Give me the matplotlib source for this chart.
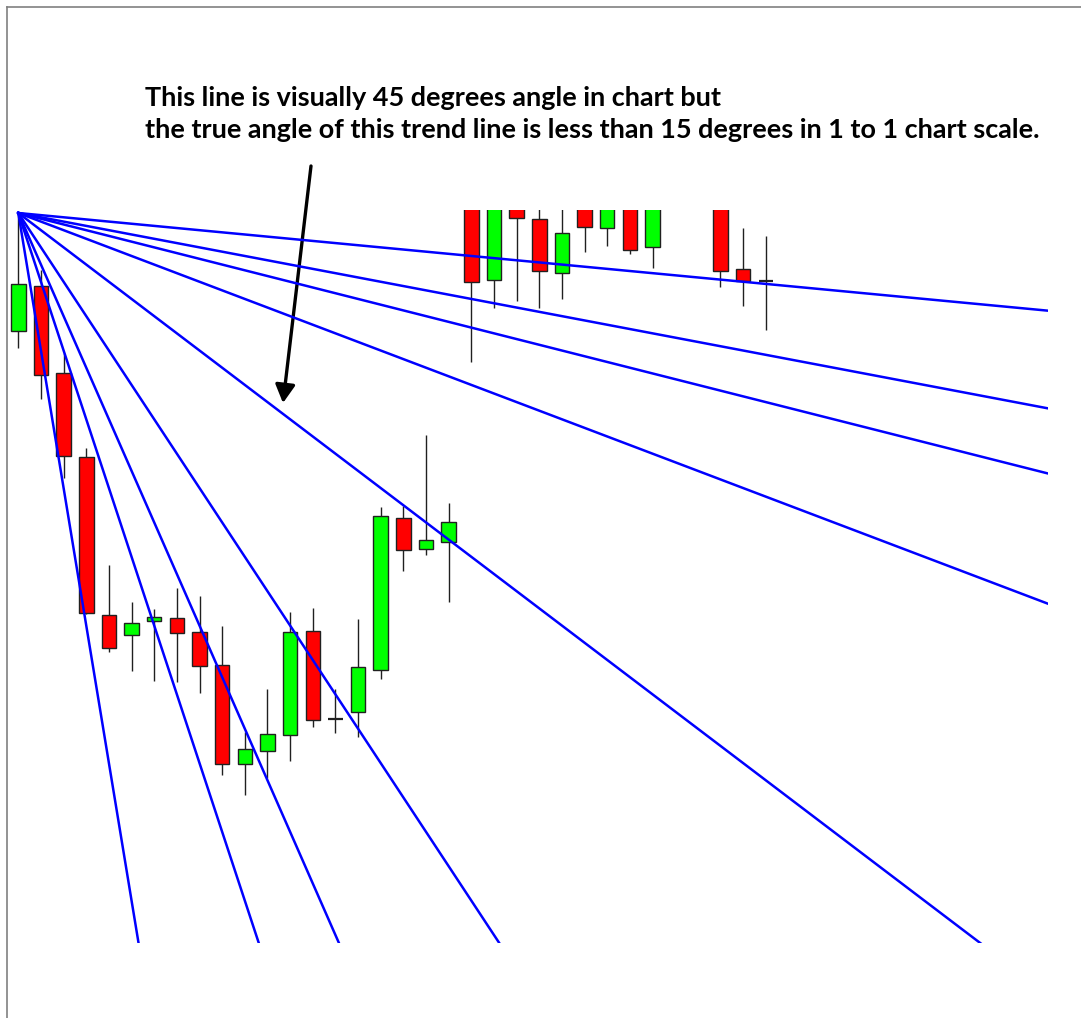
import matplotlib
matplotlib.use("Agg")
import matplotlib.pyplot as plt
from matplotlib.patches import Rectangle
from matplotlib.lines import Line2D

# bar data (opens, highs, lows, closes) - bars 20..30 run off the top of the view
opens = [1.3112, 1.3157, 1.3070, 1.2986, 1.2828, 1.2808, 1.2822, 1.2825, 1.2811, 1.2778,
         1.2679, 1.2692, 1.2708, 1.2812, 1.2724, 1.2731, 1.2773, 1.2925, 1.2894, 1.2901,
         1.3263, 1.3163, 1.3250, 1.3224, 1.3170, 1.3256, 1.3215, 1.3265, 1.3196, 1.3262,
         1.3285, 1.3268, 1.3174, 1.3162]
highs = [1.3230, 1.3173, 1.3090, 1.2995, 1.2878, 1.2841, 1.2834, 1.2855, 1.2847, 1.2817,
         1.2711, 1.2754, 1.2831, 1.2835, 1.2754, 1.2824, 1.2936, 1.2937, 1.3008, 1.2940,
         1.3280, 1.3270, 1.3262, 1.3245, 1.3248, 1.3270, 1.3266, 1.3278, 1.3270, 1.3300,
         1.3305, 1.3280, 1.3215, 1.3207]
lows = [1.3095, 1.3044, 1.2965, 1.2829, 1.2791, 1.2772, 1.2762, 1.2761, 1.2750, 1.2668,
        1.2648, 1.2665, 1.2682, 1.2716, 1.2710, 1.2706, 1.2764, 1.2872, 1.2888, 1.2841,
        1.3081, 1.3135, 1.3142, 1.3135, 1.3144, 1.3191, 1.3197, 1.3189, 1.3175, 1.3240,
        1.3250, 1.3156, 1.3137, 1.3113]
closes = [1.3159, 1.3068, 1.2987, 1.2830, 1.2795, 1.2820, 1.2826, 1.2810, 1.2777, 1.2679,
          1.2694, 1.2709, 1.2811, 1.2723, 1.2724, 1.2776, 1.2927, 1.2893, 1.2903, 1.2921,
          1.3161, 1.3255, 1.3225, 1.3172, 1.3210, 1.3216, 1.3252, 1.3193, 1.3258, 1.3290,
          1.3270, 1.3172, 1.3162, 1.3162]

# gann fan from the high of bar 0
fan_start = 0
fan_price = 1.3230
one_by_one = 0.001719   # price per bar
fan_ratios = [1/8, 1/4, 1/3, 1/2, 1, 2, 3, 4, 8]

note_lines = ["This line is visually 45 degrees angle in chart but",
              "the true angle of this trend line is less than 15 degrees in 1 to 1 chart scale."]

W, H = 1081, 1018
fig = plt.figure(figsize=(W / 100, H / 100), dpi=100, facecolor='w')

# chart window in pixels: x 8..1048, y 210..943 (from top)
ax = fig.add_axes([8 / W, (H - 943) / H, 1040 / W, 733 / H])
ax.axis('off')
ax.set_xlim(-0.455, 45.46)
ax.set_ylim(1.2500, 1.3233)

bw = 0.64
for i in range(len(opens)):
    O, Hh, L, C = opens[i], highs[i], lows[i], closes[i]
    ax.vlines(i, L, Hh, color='#202020', linewidth=1.0, zorder=2)
    lw = 1.0
    if C > O:
        fc = '#00ff00'
    elif C < O:
        fc = '#ff0000'
    else:
        fc = 'k'
        lw = 1.6   # doji drawn as a thick dash
    rec = Rectangle((i - bw / 2, min(O, C)), bw, abs(C - O),
                    facecolor=fc, edgecolor='#202020', linewidth=lw, zorder=3)
    ax.add_patch(rec)

for r in fan_ratios:
    x_end = 80
    y_end = fan_price - one_by_one * r * (x_end - fan_start)
    ax.plot([fan_start, x_end], [fan_price, y_end], color='#0000ff', linewidth=1.8, zorder=4)

# frame of the screenshot
fig.add_artist(Line2D([7.5 / W, 7.5 / W], [0, 1 - 7 / H], color='#808080', linewidth=1.2))
fig.add_artist(Line2D([7.5 / W, 1], [1 - 7 / H, 1 - 7 / H], color='#808080', linewidth=1.2))

# note text, sized so the long line spans about 896 px
t1 = fig.text(145 / W, 1 - 106 / H, note_lines[0], fontsize=18, fontweight='bold',
              family='Lato', va='baseline', ha='left')
t2 = fig.text(145 / W, 1 - 138 / H, note_lines[1], fontsize=18, fontweight='bold',
              family='Lato', va='baseline', ha='left')
fig.canvas.draw()
wpx = t2.get_window_extent().width
fs = 18 * 896 / wpx
t1.set_fontsize(fs)
t2.set_fontsize(fs)

ax.annotate('', xy=(283, H - 403), xycoords='figure pixels',
            xytext=(311, H - 166), textcoords='figure pixels',
            arrowprops=dict(arrowstyle='-|>,head_width=0.3,head_length=0.55',
                            mutation_scale=20, color='k', linewidth=2.4,
                            shrinkA=0, shrinkB=0))

fig.savefig('out.png', dpi=100, facecolor='w')
